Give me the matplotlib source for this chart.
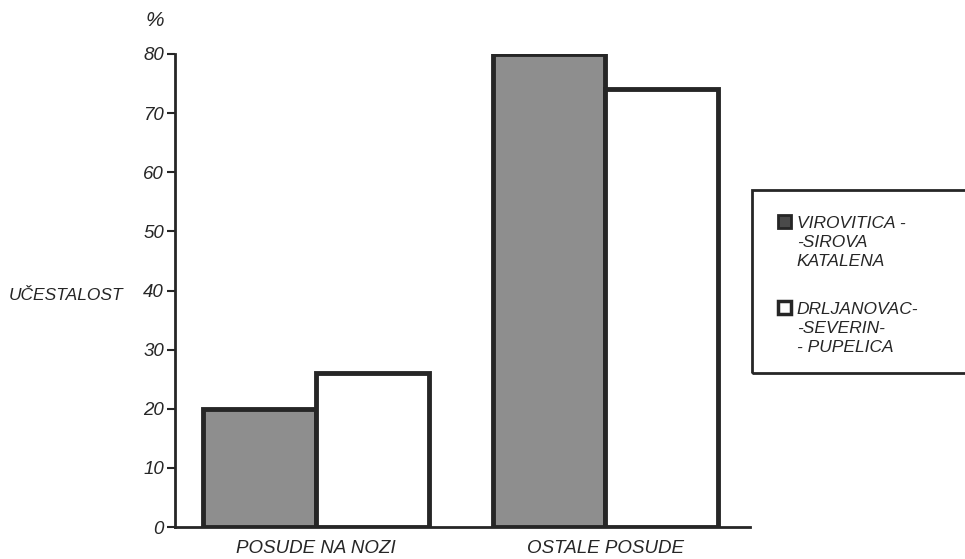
import numpy as np
import matplotlib
matplotlib.use("Agg")
import matplotlib.pyplot as plt
from matplotlib.patches import Patch, Rectangle
from matplotlib.legend_handler import HandlerPatch

# data
categories = ["POSUDE NA NOZI", "OSTALE POSUDE"]
series_names = ["VIROVITICA -\n-SIROVA\nKATALENA", "DRLJANOVAC-\n-SEVERIN-\n- PUPELICA"]
virovitica = [20, 80]
drljanovac = [26, 74]
y_ticks = [0, 10, 20, 30, 40, 50, 60, 70, 80]

ink = "#262626"
dark_fill = "#8e8e8e"
leg_size = 12.5
leg_linespacing = 1.35

plt.rcParams["font.family"] = ["Liberation Sans Narrow", "Liberation Sans", "DejaVu Sans"]
plt.rcParams["font.style"] = "italic"

fig = plt.figure(figsize=(9.65, 5.59), dpi=100)
ax = fig.add_axes([0.1813, 0.0572, 0.596, 0.8462])

x = np.arange(len(categories))
width = 0.39

ax.bar(x - width / 2, virovitica, width, color=dark_fill, edgecolor=ink, linewidth=3.5, zorder=2)
ax.bar(x + width / 2, drljanovac, width, color="white", edgecolor=ink, linewidth=3.5, zorder=2)

ax.set_xlim(-0.488, 1.5)
ax.set_ylim(0, 80)
ax.set_yticks(y_ticks)
ax.set_yticklabels([str(v) for v in y_ticks], fontsize=13.5, color=ink)
ax.set_xticks(x)
ax.set_xticklabels(categories, fontsize=13.5, color=ink)
ax.tick_params(axis="x", length=0, pad=9)
ax.tick_params(axis="y", length=6, width=1.5, color=ink, pad=2, direction="out")

for side in ["top", "right"]:
    ax.spines[side].set_visible(False)
for side in ["left", "bottom"]:
    ax.spines[side].set_linewidth(2)
    ax.spines[side].set_color(ink)

fig.text(155 / 965, 1 - 20 / 559, "%", fontsize=15, color=ink, ha="center", va="center")
fig.text(66 / 965, 1 - 295 / 559, "UČESTALOST", fontsize=12.5, color=ink, ha="center", va="center")


# put the legend square next to the first line of the label, like the scan
def top_square(legend, orig_handle, xdescent, ydescent, width, height, fontsize):
    shift = leg_size * 1.22
    return Rectangle((-xdescent, -ydescent + shift), width, height)


# legend box, runs off the right edge like the scan
fig.patches.append(Rectangle((752 / 965, 1 - 373 / 559), 0.25, (373 - 190) / 559,
                             transform=fig.transFigure, fill=False, edgecolor=ink, linewidth=2))
handles = [Patch(facecolor="#4a4a4a", edgecolor=ink, linewidth=2),
           Patch(facecolor="white", edgecolor=ink, linewidth=2.5)]
leg = fig.legend(handles, series_names, loc="upper left",
                 bbox_to_anchor=(769 / 965, 1 - 207 / 559), frameon=False,
                 fontsize=leg_size, handlelength=0.75, handleheight=0.75, handletextpad=0.35,
                 labelspacing=1.9, borderpad=0,
                 handler_map={Patch: HandlerPatch(patch_func=top_square)})
for t in leg.get_texts():
    t.set_color(ink)
    t.set_linespacing(leg_linespacing)

fig.savefig("out.png", dpi=100, facecolor="white")
